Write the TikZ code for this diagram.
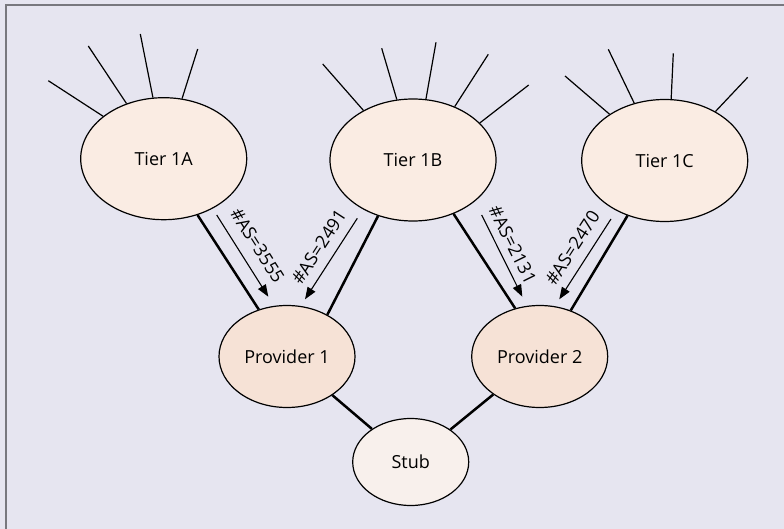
\documentclass[tikz,border=0pt]{standalone}
\usepackage{fontspec}
\setmainfont{Open Sans}
\usetikzlibrary{arrows.meta,shapes.geometric}
\definecolor{bgc}{HTML}{E6E5F0}
\definecolor{framec}{HTML}{78787E}
\definecolor{tierc}{HTML}{FAECE3}
\definecolor{provc}{HTML}{F6E2D6}
\definecolor{stubc}{HTML}{F8F0EC}
\tikzset{
  blob/.style={ellipse, draw=black, line width=1.2pt, inner sep=0pt, font=\fontsize{18}{21}\selectfont},
  tier/.style={blob, fill=tierc, minimum width=166pt, minimum height=122pt},
  prov/.style={blob, fill=provc, minimum width=136pt, minimum height=102pt},
  stubn/.style={blob, fill=stubc, minimum width=116pt, minimum height=87pt},
  link/.style={line width=2.5pt},
  whisker/.style={line width=1.2pt},
  asarrow/.style={line width=1.1pt, -{Triangle[length=12pt,width=9pt]}},
  aslabel/.style={inner sep=0pt, font=\fontsize{18}{21}\selectfont}
}
\begin{document}
\begin{tikzpicture}[x=1pt,y=-1pt]
\useasboundingbox (0,0) rectangle (784,529);
\fill[bgc] (0,0) rectangle (784,529);
\draw[framec, line width=2pt] (5.5,529) -- (5.5,5.5) -- (784,5.5);

% nodes
\node[tier] (t1a) at (163.7,158.7) {Tier 1A};
\node[tier] (t1b) at (413,160) {Tier 1B};
\node[tier] (t1c) at (664.7,160.5) {Tier 1C};
\node[prov] (p1) at (287,356.5) {Provider 1};
\node[prov] (p2) at (539.7,356.5) {Provider 2};
\node[stubn] (stub) at (410.7,462) {Stub};

% whisker free ends
\coordinate (wa1) at (48.3,80.7);
\coordinate (wa2) at (88.3,46);
\coordinate (wa3) at (140.3,34);
\coordinate (wa4) at (197.7,49);
\coordinate (wb1) at (322.7,64);
\coordinate (wb2) at (381.7,48.3);
\coordinate (wb3) at (436,42.3);
\coordinate (wb4) at (488.3,54.3);
\coordinate (wb5) at (528.7,85);
\coordinate (wc1) at (565,76);
\coordinate (wc2) at (608.3,49.3);
\coordinate (wc3) at (673.3,53.3);
\coordinate (wc4) at (747.7,77.3);

\draw[whisker] (t1a.145.9) -- (wa1);
\draw[whisker] (t1a.124.6) -- (wa2);
\draw[whisker] (t1a.100.5) -- (wa3);
\draw[whisker] (t1a.73.1) -- (wa4);
\draw[whisker] (t1b.135.6) -- (wb1);
\draw[whisker] (t1b.105) -- (wb2);
\draw[whisker] (t1b.78.9) -- (wb3);
\draw[whisker] (t1b.52.6) -- (wb4);
\draw[whisker] (t1b.29.4) -- (wb5);
\draw[whisker] (t1c.140) -- (wc1);
\draw[whisker] (t1c.118.9) -- (wc2);
\draw[whisker] (t1c.84.2) -- (wc3);
\draw[whisker] (t1c.44) -- (wc4);

% links
\draw[link] (t1a.-59.3) -- (p1.121.7);
\draw[link] (t1b.238.5) -- (p1.46.7);
\draw[link] (t1b.307) -- (p2.117);
\draw[link] (t1c.236) -- (p2.56.9);
\draw[link] (p1) -- (stub);
\draw[link] (p2) -- (stub);

% annotation arrows
\coordinate (s1) at (216.7,215);   \coordinate (e1) at (268.3,296.7);
\coordinate (s2) at (357.3,218.3); \coordinate (e2) at (305,299.3);
\coordinate (s3) at (481.7,215);   \coordinate (e3) at (522.3,296.7);
\coordinate (s4) at (611,219);     \coordinate (e4) at (559.3,299.3);
\draw[asarrow] (s1) -- (e1);
\draw[asarrow] (s2) -- (e2);
\draw[asarrow] (s3) -- (e3);
\draw[asarrow] (s4) -- (e4);

\node[aslabel, rotate=-57.7] (l1) at (257.5,245.4) {\#AS=3555};
\node[aslabel, rotate=57.1] (l2) at (319,246.9) {\#AS=2491};
\node[aslabel, rotate=-63.6] (l3) at (512.7,244.7) {\#AS=2131};
\node[aslabel, rotate=57.2] (l4) at (572.5,247.9) {\#AS=2470};
\end{tikzpicture}
\end{document}
